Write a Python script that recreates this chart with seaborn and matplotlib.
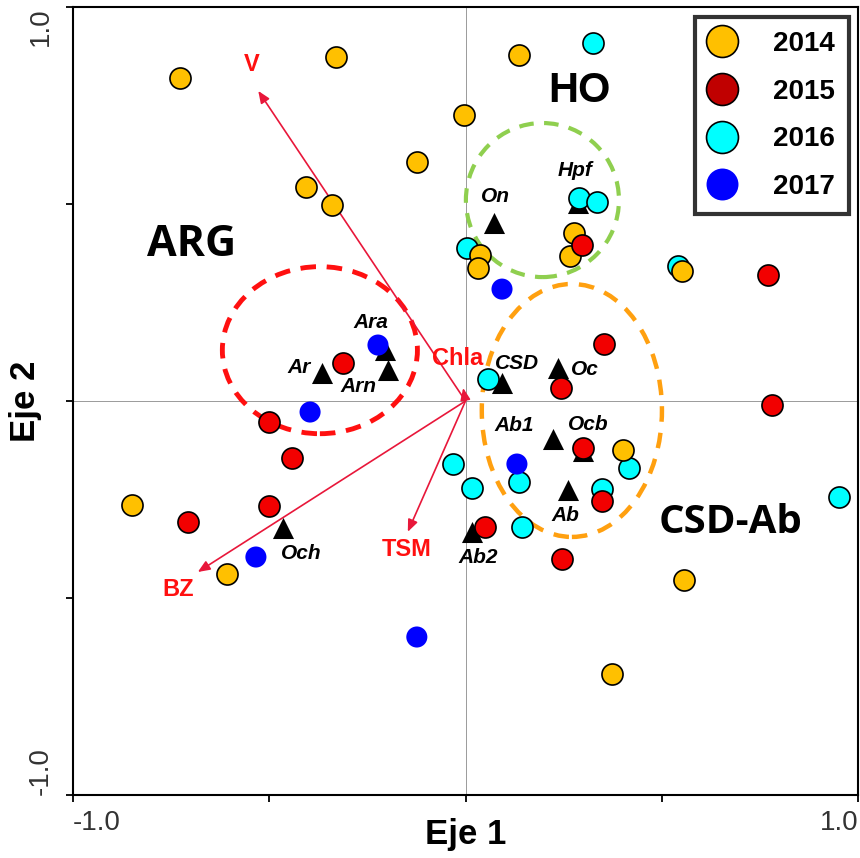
import numpy as np
import pandas as pd
import seaborn as sns
import matplotlib.pyplot as plt
from matplotlib.patches import Ellipse
from matplotlib.lines import Line2D

# sample scores (Eje 1, Eje 2) per year
x_2014 = [-0.727, -0.330, 0.136, -0.004, -0.123, -0.406, -0.340, 0.037, 0.033,
          0.277, 0.266, 0.551, -0.849, -0.607, 0.401, 0.557, 0.373]
y_2014 = [0.820, 0.873, 0.878, 0.726, 0.607, 0.543, 0.497, 0.371, 0.338,
          0.426, 0.368, 0.330, -0.264, -0.439, -0.124, -0.454, -0.693]
x_2015 = [-0.312, -0.500, -0.441, -0.500, -0.707, 0.297, 0.771, 0.353, 0.243,
          0.781, 0.299, 0.348, 0.050, 0.246]
y_2015 = [0.096, -0.053, -0.145, -0.266, -0.307, 0.396, 0.320, 0.145, 0.033,
          -0.010, -0.120, -0.254, -0.319, -0.401]
x_2016 = [0.325, 0.289, 0.335, 0.004, 0.541, 0.057, -0.032, 0.017, 0.136,
          0.348, 0.417, 0.144, 0.952]
y_2016 = [0.909, 0.516, 0.505, 0.388, 0.343, 0.056, -0.160, -0.221, -0.205,
          -0.223, -0.169, -0.320, -0.243]
x_2017 = [-0.223, -0.396, 0.093, -0.534, -0.124, 0.131]
y_2017 = [0.142, -0.028, 0.284, -0.396, -0.599, -0.160]

# species scores
species = ["Ara", "Arn", "Ar", "On", "Hpf", "CSD", "Oc", "Ab1", "Ocb", "Ab", "Ab2", "Och"]
sp_x = [-0.205, -0.197, -0.366, 0.073, 0.286, 0.093, 0.236, 0.223, 0.299, 0.260, 0.017, -0.464]
sp_y = [0.129, 0.079, 0.071, 0.452, 0.503, 0.046, 0.084, -0.097, -0.128, -0.226, -0.332, -0.322]
# label offsets in pixels
sp_off = [(-14, 28), (-30, -17), (-23, 6), (1, 26), (-3, 32), (15, 19), (27, -2),
          (-39, 14), (5, 27), (-2, -25), (6, -26), (18, -26)]

# environmental vectors
env = ["V", "Chla", "BZ", "TSM"]
env_x = [-0.528, -0.006, -0.682, -0.147]
env_y = [0.787, 0.033, -0.434, -0.332]
env_off = [(-7, 26), (-6, 29), (-20, -18), (-1, -18)]

years = ["2014", "2015", "2016", "2017"]
point_colors = {"2014": "#FFC000", "2015": "#F20000", "2016": "#00FFFF", "2017": "#0000FF"}
legend_colors = {"2014": "#FFC000", "2015": "#C00000", "2016": "#00FFFF", "2017": "#0000FF"}

df = pd.concat([
    pd.DataFrame({"x": x_2014, "y": y_2014, "year": "2014"}),
    pd.DataFrame({"x": x_2015, "y": y_2015, "year": "2015"}),
    pd.DataFrame({"x": x_2016, "y": y_2016, "year": "2016"}),
    pd.DataFrame({"x": x_2017, "y": y_2017, "year": "2017"}),
], ignore_index=True)

sns.set_theme(style="ticks")
plt.rcParams["font.family"] = ["Liberation Sans", "DejaVu Sans"]
plt.rcParams["text.color"] = "black"
plt.rcParams["axes.labelcolor"] = "black"

fig = plt.figure(figsize=(8.6, 8.58), dpi=100)
ax = fig.add_axes([73 / 860, 63 / 858, 785 / 860, 788 / 858])

# crosshair
ax.axhline(0, color="#9a9a9a", lw=0.7, zorder=1)
ax.axvline(0, color="#9a9a9a", lw=0.7, zorder=1)

# group ellipses
ax.add_patch(Ellipse((-0.371, 0.129), 0.497, 0.424, fill=False, ec="#FF1010",
                     lw=3.5, ls=(0, (3.2, 2.2)), zorder=2))
ax.add_patch(Ellipse((0.196, 0.510), 0.390, 0.391, fill=False, ec="#8FCF4F",
                     lw=3, ls=(0, (3.5, 2.5)), zorder=2))
ax.add_patch(Ellipse((0.271, -0.024), 0.459, 0.642, fill=False, ec="#FFA010",
                     lw=3.2, ls=(0, (3.5, 2.5)), zorder=2))

# environmental arrows
for name, ex, ey, off in zip(env, env_x, env_y, env_off):
    ax.annotate("", xy=(ex, ey), xytext=(0, 0),
                arrowprops=dict(arrowstyle="-|>,head_length=0.6,head_width=0.25",
                                color="#E8173A", lw=1.2, shrinkA=0, shrinkB=0),
                zorder=3)
    ax.annotate(name, xy=(ex, ey), xytext=off, textcoords="offset pixels",
                ha="center", va="center", color="#FF1010", fontsize=17,
                fontweight="bold", zorder=6)

# species triangles (under the sample circles)
sns.scatterplot(x=sp_x, y=sp_y, marker="^", s=230, color="black", edgecolor="black",
                linewidth=0, ax=ax, zorder=3, legend=False)
for name, sx, sy, off in zip(species, sp_x, sp_y, sp_off):
    ax.annotate(name, xy=(sx, sy), xytext=off, textcoords="offset pixels",
                ha="center", va="center", fontsize=15, fontweight="bold",
                fontstyle="italic", color="black", zorder=6)

# samples
for yr in ["2016", "2014", "2015", "2017"]:
    sub = df[df["year"] == yr]
    sns.scatterplot(data=sub, x="x", y="y", s=230, color=point_colors[yr],
                    edgecolor="none" if yr == "2017" else "black",
                    linewidth=1.2, ax=ax, zorder=4, legend=False)

# group names
ax.text(-0.699, 0.396, "ARG", fontsize=31, fontweight="bold",
        family=["Open Sans", "DejaVu Sans"], color="black", ha="center", va="center")
ax.text(0.290, 0.787, "HO", fontsize=30, fontweight="bold", color="black",
        ha="center", va="center")
ax.text(0.674, -0.308, "CSD-Ab", fontsize=29, fontweight="bold",
        family=["Open Sans", "DejaVu Sans"], color="black", ha="center", va="center")

ax.set_xlim(-1, 1)
ax.set_ylim(-1, 1)
ax.set_xticks([-1, -0.5, 0, 0.5, 1])
ax.set_xticklabels(["-1.0", "", "", "", "1.0"])
ax.set_yticks([-1, -0.5, 0, 0.5, 1])
ax.set_yticklabels(["-1.0", "", "", "", "1.0"], rotation=90)
ax.get_xticklabels()[0].set_ha("left")
ax.get_xticklabels()[-1].set_ha("right")
ax.get_yticklabels()[0].set_va("bottom")
ax.get_yticklabels()[-1].set_va("top")
ax.tick_params(axis="both", direction="out", length=5, width=1.3, color="black",
               labelsize=20, labelcolor="#333333")
ax.tick_params(axis="x", pad=6)
ax.tick_params(axis="y", pad=9)
for sp in ax.spines.values():
    sp.set_visible(True)
    sp.set_color("black")
    sp.set_linewidth(1.5)

ax.set_xlabel("Eje 1", fontsize=25, fontweight="bold")
ax.set_ylabel("Eje 2", fontsize=25, fontweight="bold")
ax.xaxis.set_label_coords(0.5, -0.0495)
ax.yaxis.set_label_coords(-0.061, 0.5)
ax.xaxis.label.set_va("center")
ax.yaxis.label.set_va("center")

handles = [Line2D([], [], ls="none", marker="o", markersize=23,
                  markerfacecolor=legend_colors[yr],
                  markeredgecolor="none" if yr == "2017" else "black",
                  markeredgewidth=1.2) for yr in years]
leg = ax.legend(handles, years, loc="upper right", bbox_to_anchor=(0.9885, 0.987),
                borderaxespad=0, frameon=True, fancybox=False,
                prop={"weight": "bold", "size": 20},
                labelspacing=0.78, handletextpad=1.4, borderpad=0.5, handlelength=0.9)
leg.get_frame().set_edgecolor("black")
leg.get_frame().set_linewidth(3)
leg.set_zorder(10)

fig.savefig("out.png", dpi=100)
